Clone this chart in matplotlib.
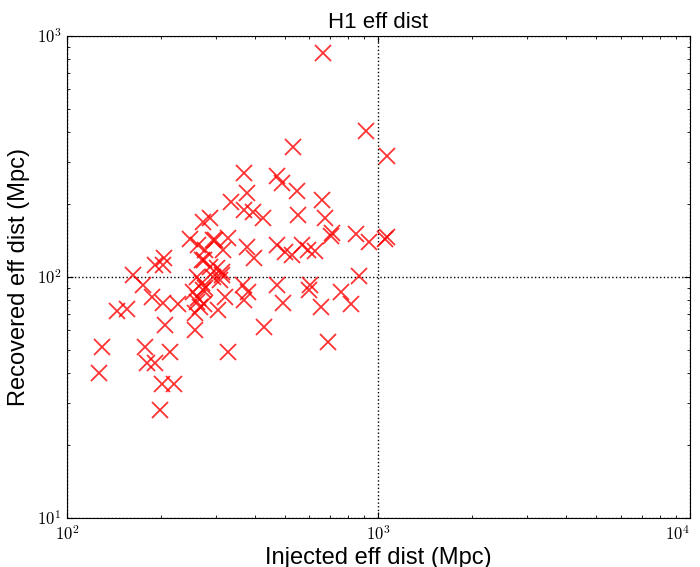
import numpy as np
import matplotlib
matplotlib.use('Agg')
import matplotlib.pyplot as plt
from matplotlib.ticker import FuncFormatter

# injected vs recovered effective distance (Mpc)
inj_dist = [127, 130, 145, 156, 163, 175, 187, 203, 227, 206,
            178, 181, 192, 214, 202, 221, 199, 192, 205, 203,
            248, 263, 275, 303, 317, 299, 261, 273, 254, 261,
            267, 258, 258, 305, 321, 329, 532, 370, 472, 490,
            548, 378, 336, 370, 395, 426, 552, 659, 673, 709,
            847, 932, 1049, 1065, 912, 1065, 663, 288, 273, 294,
            329, 277, 378, 398, 472, 501, 528, 568, 594, 625,
            271, 288, 314, 472, 494, 429, 603, 598, 367, 381,
            370, 275, 263, 314, 271, 654, 688, 758, 816, 866,
            310, 277, 294, 702]
rec_dist = [40, 51, 72, 74, 102, 93, 83, 78, 77, 63,
            51, 44, 44, 49, 36, 36, 28, 112, 120, 112,
            144, 136, 118, 109, 129, 142, 100, 88, 87, 79,
            75, 71, 60, 73, 83, 49, 346, 270, 262, 245,
            227, 223, 205, 190, 186, 176, 181, 209, 176, 152,
            151, 140, 144, 147, 403, 318, 850, 176, 169, 142,
            145, 129, 133, 120, 136, 127, 123, 136, 129, 128,
            118, 110, 105, 93, 78, 62, 93, 88, 93, 87,
            80, 77, 82, 102, 94, 75, 54, 87, 77, 101,
            97, 90, 100, 148]
x_decades = [1e2, 1e3, 1e4]
y_decades = [1e1, 1e2, 1e3]

plt.rcParams['mathtext.fontset'] = 'cm'
plt.rcParams['xtick.direction'] = 'in'
plt.rcParams['ytick.direction'] = 'in'
plt.rcParams['xtick.top'] = True
plt.rcParams['ytick.right'] = True
plt.rcParams['xtick.major.size'] = 4
plt.rcParams['ytick.major.size'] = 4
plt.rcParams['xtick.minor.size'] = 2
plt.rcParams['ytick.minor.size'] = 2

fig = plt.figure(figsize=(7, 5.67), dpi=100)
ax = fig.add_axes([0.0957, 0.0864, 0.89, 0.8501])

ax.plot(inj_dist, rec_dist, 'x', color='red', alpha=0.8, markersize=12, markeredgewidth=1.3)
ax.set_xscale('log')
ax.set_yscale('log')
ax.set_xlim(x_decades[0], x_decades[-1])
ax.set_ylim(y_decades[0], y_decades[-1])
ax.set_xticks(x_decades)
ax.set_yticks(y_decades)
ax.grid(True, which='major', color='k', linestyle=':', linewidth=1.0)

dec_fmt = FuncFormatter(lambda v, pos: r'$10^{%d}$' % int(round(np.log10(v))))
ax.xaxis.set_major_formatter(dec_fmt)
ax.yaxis.set_major_formatter(dec_fmt)
ax.tick_params(axis='both', which='major', labelsize=12)
ax.tick_params(axis='x', pad=5)
ax.tick_params(axis='y', pad=4)
fig.canvas.draw()
ax.get_xticklabels()[-1].set_horizontalalignment('right')

ax.set_xlabel('Injected eff dist (Mpc)', fontsize=17, family='Liberation Sans', labelpad=2)
ax.set_ylabel('Recovered eff dist (Mpc)', fontsize=17, family='Liberation Sans', labelpad=5)
ax.set_title('H1 eff dist', fontsize=16, family='Liberation Sans')

plt.savefig('out.png', dpi=100)
plt.close()
